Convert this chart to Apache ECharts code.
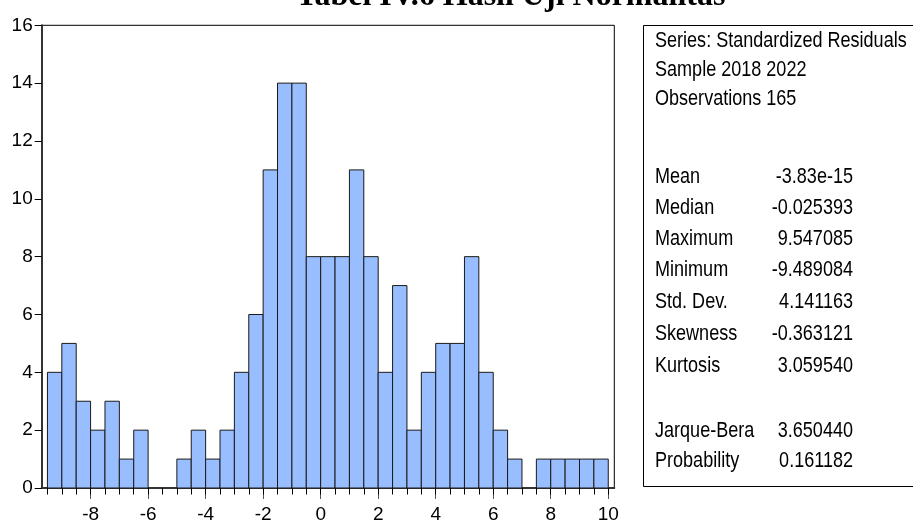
<!DOCTYPE html>
<html><head><meta charset="utf-8">
<script src="https://cdn.jsdelivr.net/npm/echarts@6/dist/echarts.min.js"></script>
<style>html,body{margin:0;padding:0;background:#fff}#c{width:913px;height:524px}</style>
</head><body><div id="c"></div>
<script>
const titleText = 'Tabel IV.6 Hasil Uji Normalitas';
const binEdges = [-9.5,-9,-8.5,-8,-7.5,-7,-6.5,-6,-5.5,-5,-4.5,-4,-3.5,-3,-2.5,-2,-1.5,-1,-0.5,0,
  0.5,1,1.5,2,2.5,3,3.5,4,4.5,5,5.5,6,6.5,7,7.5,8,8.5,9,9.5,10];
const binCounts = [4,5,3,2,3,1,2,0,0,1,2,1,2,4,6,11,14,14,8,8,8,11,8,4,7,2,4,5,5,8,4,2,1,0,1,1,1,1,1];
const xLabelValues = [-8,-6,-4,-2,0,2,4,6,8,10];
const headerLines = ['Series: Standardized Residuals','Sample 2018 2022','Observations 165'];
const statLabels = ['Mean','Median','Maximum','Minimum','Std. Dev.','Skewness','Kurtosis','Jarque-Bera','Probability'];
const statValues = ['-3.83e-15','-0.025393','9.547085','-9.489084','4.141163','-0.363121','3.059540','3.650440','0.161182'];

const FONT = "'Liberation Sans',Arial,sans-serif";
const chart = echarts.init(document.getElementById('c'));
const data = binCounts.map((c, i) => [binEdges[i], binEdges[i + 1], c]);

const headerBase = [49, 78, 107];
const statBase = [185, 216, 247, 278, 310, 342, 374, 439, 469];
const SX = 0.82;
const graphics = [];
graphics.push({type:'text', x:296, y:-3.5, style:{text:titleText, font:"bold 32px 'Liberation Serif','Times New Roman',serif", fill:'#000', verticalAlign:'middle'}});
graphics.push({type:'rect', shape:{x:643.5, y:25.5, width:300, height:461}, style:{fill:'none', stroke:'#000', lineWidth:1}});
headerLines.forEach((t, i) => graphics.push({type:'text', x:655, y:headerBase[i]-7.6, scaleX:SX, style:{text:t, font:'22px ' + FONT, fill:'#000', verticalAlign:'middle'}}));
statLabels.forEach((t, i) => {
  graphics.push({type:'text', x:655, y:statBase[i]-7.6, scaleX:SX, style:{text:t, font:'22px ' + FONT, fill:'#000', verticalAlign:'middle'}});
  graphics.push({type:'text', x:853, y:statBase[i]-7.6, scaleX:SX, style:{text:statValues[i], font:'22px ' + FONT, fill:'#000', align:'right', verticalAlign:'middle'}});
});

chart.setOption({
  animation: false,
  backgroundColor: '#fff',
  grid: {left: 41.7, top: 25.3, width: 572.6, height: 465.4, show: true, borderColor: '#000', borderWidth: 1, containLabel: false},
  xAxis: [{
    type: 'value', min: -9.70, max: 10.21, position: 'bottom',
    axisLine: {show: true, onZero: false, lineStyle: {color: '#333', width: 2}},
    axisTick: {show: true, customValues: xLabelValues, length: 11, lineStyle: {color: '#555', width: 1}},
    axisLabel: {show: true, customValues: xLabelValues, margin: 17, color: '#000', fontSize: 19, fontFamily: FONT},
    splitLine: {show: false}
  }, {
    type: 'value', min: -9.70, max: 10.21, position: 'bottom',
    axisLine: {show: false, onZero: false},
    axisTick: {show: true, customValues: binEdges, length: 6.5, lineStyle: {color: '#000', width: 1}},
    axisLabel: {show: false},
    splitLine: {show: false}
  }],
  yAxis: {
    type: 'value', min: 0, max: 16, interval: 2, position: 'left',
    axisLine: {show: true, onZero: false, lineStyle: {color: '#333', width: 2}},
    axisTick: {show: true, length: 7, lineStyle: {color: '#000', width: 1}},
    axisLabel: {margin: 9, color: '#000', fontSize: 19, fontFamily: FONT},
    splitLine: {show: false}
  },
  series: [{
    type: 'custom',
    xAxisIndex: 0, yAxisIndex: 0,
    encode: {x: [0, 1], y: 2},
    data: data,
    renderItem: function (params, api) {
      const c = api.value(2);
      if (!c) return null;
      const p0 = api.coord([api.value(0), 0]);
      const p1 = api.coord([api.value(1), c]);
      return {type: 'rect', shape: {x: p0[0], y: p1[1], width: p1[0] - p0[0], height: p0[1] - p1[1]},
        style: {fill: '#99BEFF', stroke: '#1a1a1a', lineWidth: 1}};
    }
  }],
  graphic: graphics
});
</script></body></html>
